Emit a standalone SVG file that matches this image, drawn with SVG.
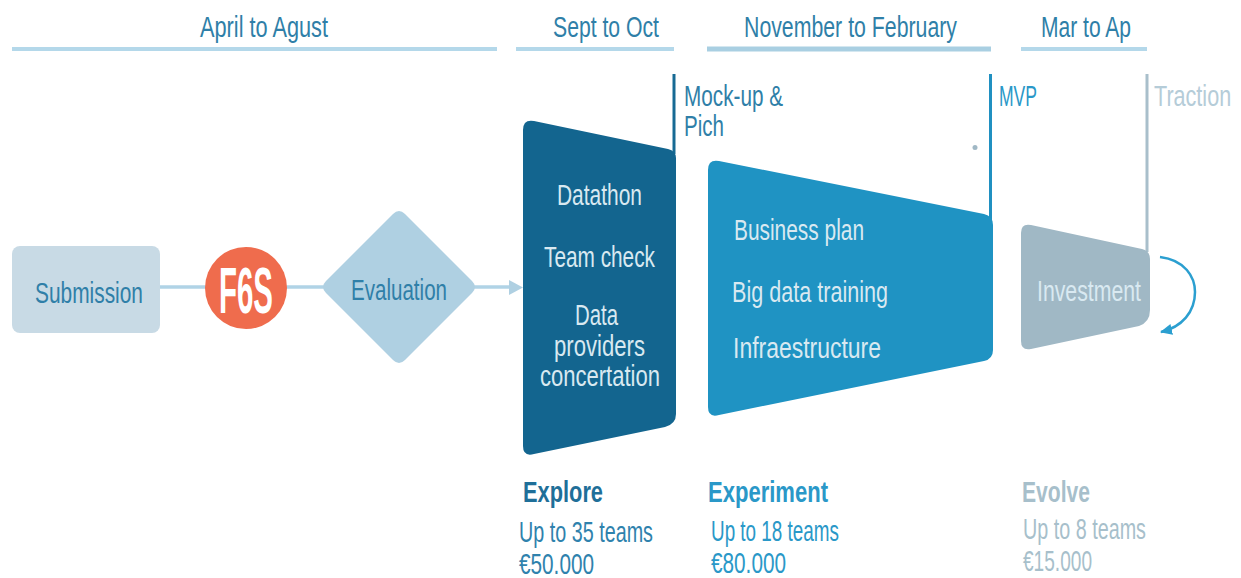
<svg xmlns="http://www.w3.org/2000/svg" width="1241" height="578" viewBox="0 0 1241 578">
<style>
text{font-family:"Liberation Sans Narrow","Liberation Sans",sans-serif;font-size:30px}
.hd{fill:#2f7fa8}
.w{fill:#d9e9f1}
.dk{fill:#1f6f99}
.md{fill:#2a98c8}
.lt{fill:#a7bfcb}
.bold{font-weight:700}
.hline{fill:none;stroke:#b4d8ea;stroke-width:4}
</style>
<defs>
<marker id="arc-head" markerUnits="userSpaceOnUse" markerWidth="14" markerHeight="12" refX="11" refY="5.500" orient="auto"><path d="M0 0L12 5.500L0 11z" fill="#2b9fd0"/></marker>
</defs>
<g id="connectors">
<path d="M158 287H512" fill="none" stroke="#b0d3e6" stroke-width="3.500"/>
<path d="M509 280L523 287.500L509 295z" fill="#afd0e2"/>
<path d="M1160 257C1185 260 1195 277 1195 292C1195 312 1182 327 1161 332" fill="none" stroke="#2b9fd0" stroke-width="2.500" marker-end="url(#arc-head)"/>
<path d="M674 74V154" fill="none" stroke="#176a94" stroke-width="3"/>
<path d="M990.500 74V220" fill="none" stroke="#2090c1" stroke-width="3"/>
<path d="M1147 74V252" fill="none" stroke="#a9bfcb" stroke-width="3"/>
</g>
<g id="headers">
<path class="hline" d="M12 49H497"/><text class="hd" x="200" y="37" textLength="128" lengthAdjust="spacingAndGlyphs">April to Agust</text>
<path class="hline" d="M516 49H674"/><text class="hd" x="553" y="37" textLength="106" lengthAdjust="spacingAndGlyphs">Sept to Oct</text>
<path class="hline" d="M707 49H991" style="stroke:#a9cfe2;stroke-width:5"/><text class="hd" x="744" y="37" textLength="213" lengthAdjust="spacingAndGlyphs">November to February</text>
<path class="hline" d="M1021 49H1147"/><text class="hd" x="1041" y="37" textLength="90" lengthAdjust="spacingAndGlyphs">Mar to Ap</text>
</g>
<g id="submission">
<rect x="12" y="246" width="148" height="87" rx="8" fill="#c8dae5"/>
<text class="hd" x="35" y="303" textLength="108" lengthAdjust="spacingAndGlyphs">Submission</text>
</g>
<g id="f6s">
<circle cx="246" cy="288" r="41" fill="#ef6c4d"/>
<text x="219" y="313" textLength="54" lengthAdjust="spacingAndGlyphs" fill="#fff" font-weight="700" style="font-size:65px">F6S</text>
</g>
<g id="evaluation">
<path d="M393 214Q399 208 405 214L472 281Q478 287 472 293L405 360Q399 366 393 360L326 293Q320 287 326 281z" fill="#afd0e2"/>
<text class="hd" x="351" y="300" textLength="96" lengthAdjust="spacingAndGlyphs">Evaluation</text>
</g>
<g id="explore">
<path d="M523 130Q523 119 534 121L668 149Q676 151 676 158V414Q676 424 665 427L534 454Q523 457 523 446z" fill="#13658f"/>
<text class="w" x="557" y="205" textLength="85" lengthAdjust="spacingAndGlyphs">Datathon</text>
<text class="w" x="544" y="267" textLength="111" lengthAdjust="spacingAndGlyphs">Team check</text>
<text class="w" x="575" y="325" textLength="43" lengthAdjust="spacingAndGlyphs">Data</text>
<text class="w" x="554" y="356" textLength="91" lengthAdjust="spacingAndGlyphs">providers</text>
<text class="w" x="540" y="386" textLength="120" lengthAdjust="spacingAndGlyphs">concertation</text>
<text class="hd" x="684" y="106" textLength="99" lengthAdjust="spacingAndGlyphs">Mock-up &amp;</text>
<text class="hd" x="684" y="136" textLength="40" lengthAdjust="spacingAndGlyphs">Pich</text>
<text class="dk bold" x="523" y="502" textLength="80" lengthAdjust="spacingAndGlyphs">Explore</text>
<text class="dk" x="519" y="542" textLength="134" lengthAdjust="spacingAndGlyphs" style="fill:#2f82ad">Up to 35 teams</text>
<text class="dk" x="519" y="574" textLength="75" lengthAdjust="spacingAndGlyphs" style="fill:#2f82ad">€50.000</text>
</g>
<g id="experiment">
<path d="M708 170Q708 159 719 161L984 214Q993 216 993 225V350Q993 359 984 361L719 415Q708 418 708 407z" fill="#1f93c3"/>
<text class="w" x="734" y="240" textLength="130" lengthAdjust="spacingAndGlyphs">Business plan</text>
<text class="w" x="732" y="302" textLength="156" lengthAdjust="spacingAndGlyphs">Big data training</text>
<text class="w" x="733" y="358" textLength="148" lengthAdjust="spacingAndGlyphs">Infraestructure</text>
<circle cx="975" cy="147.500" r="2.500" fill="#a0b8c5"/>
<text class="md" x="999" y="106" textLength="38" lengthAdjust="spacingAndGlyphs">MVP</text>
<text class="md bold" x="708" y="502" textLength="120" lengthAdjust="spacingAndGlyphs">Experiment</text>
<text class="md" x="711" y="541" textLength="128" lengthAdjust="spacingAndGlyphs">Up to 18 teams</text>
<text class="md" x="711" y="573" textLength="75" lengthAdjust="spacingAndGlyphs">€80.000</text>
</g>
<g id="evolve">
<path d="M1021 233Q1021 223 1031 225L1142 249Q1150 251 1150 259V310Q1150 322 1139 326L1031 349Q1021 351 1021 341z" fill="#a0b8c5"/>
<text class="w" x="1037" y="301" textLength="104" lengthAdjust="spacingAndGlyphs">Investment</text>
<text class="lt" transform="translate(1154 106) scale(.72 1)" style="fill:#b5ccd8">Traction</text>
<text class="lt bold" x="1022" y="502" textLength="68" lengthAdjust="spacingAndGlyphs">Evolve</text>
<text class="lt" x="1023" y="539" textLength="123" lengthAdjust="spacingAndGlyphs">Up to 8 teams</text>
<text class="lt" x="1023" y="571" textLength="69" lengthAdjust="spacingAndGlyphs">€15.000</text>
</g>
</svg>
